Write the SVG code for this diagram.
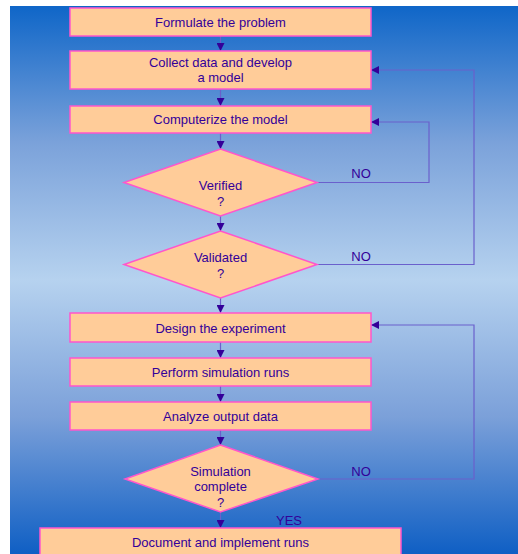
<svg xmlns="http://www.w3.org/2000/svg" width="518" height="554" viewBox="0 0 518 554">
<defs>
<linearGradient id="bg" x1="0" y1="6" x2="0" y2="554" gradientUnits="userSpaceOnUse">
<stop offset="0" stop-color="#0f66c8"/>
<stop offset="0.25" stop-color="#7ba2da"/>
<stop offset="0.5" stop-color="#b6d2ef"/>
<stop offset="0.75" stop-color="#7ba0d9"/>
<stop offset="1" stop-color="#0f5fc4"/>
</linearGradient>
<marker id="ah" viewBox="0 0 10 10" refX="10" refY="5" markerWidth="8" markerHeight="8" markerUnits="userSpaceOnUse" orient="auto">
<path d="M0,0 L10,5 L0,10 Z" fill="#330099"/>
</marker>
</defs>
<style>
.box{fill:#ffcc99;stroke:#ff55cc;stroke-width:1.5}
.t{font-family:"Liberation Sans",Arial,sans-serif;font-size:13px;fill:#330099;text-anchor:middle}
.c{fill:none;stroke:#6a60cc;stroke-width:1.2}
</style>
<rect x="0" y="0" width="518" height="554" fill="#ffffff"/>
<rect x="10" y="6" width="508" height="548" fill="url(#bg)"/>
<g id="connectors">
<line class="c" x1="220.5" y1="36" x2="220.5" y2="51" marker-end="url(#ah)"/>
<line class="c" x1="220.5" y1="89" x2="220.5" y2="106" marker-end="url(#ah)"/>
<line class="c" x1="220.5" y1="133" x2="220.5" y2="149" marker-end="url(#ah)"/>
<line class="c" x1="220.5" y1="216" x2="220.5" y2="231" marker-end="url(#ah)"/>
<line class="c" x1="220.5" y1="298" x2="220.5" y2="313" marker-end="url(#ah)"/>
<line class="c" x1="220.5" y1="342" x2="220.5" y2="358" marker-end="url(#ah)"/>
<line class="c" x1="220.5" y1="386" x2="220.5" y2="402" marker-end="url(#ah)"/>
<line class="c" x1="220.5" y1="430" x2="220.5" y2="445" marker-end="url(#ah)"/>
<line class="c" x1="220.5" y1="512" x2="220.5" y2="528" marker-end="url(#ah)"/>
<polyline class="c" points="317,182.5 429,182.5 429,122 371,122" marker-end="url(#ah)"/>
<polyline class="c" points="317,264.5 474,264.5 474,70 371,70" marker-end="url(#ah)"/>
<polyline class="c" points="318,479 474,479 474,325 371,325" marker-end="url(#ah)"/>
<text class="t" x="361" y="178">NO</text>
<text class="t" x="361" y="261">NO</text>
<text class="t" x="361" y="476">NO</text>
<text class="t" x="289" y="525">YES</text>
</g>
<g id="formulate">
<rect class="box" x="70" y="8" width="301" height="28"/>
<text class="t" x="220.5" y="27">Formulate the problem</text>
</g>
<g id="collect">
<rect class="box" x="70" y="51" width="301" height="38"/>
<text class="t" x="220.5" y="67">Collect data and develop</text>
<text class="t" x="220.5" y="82">a model</text>
</g>
<g id="computerize">
<rect class="box" x="70" y="106" width="301" height="27"/>
<text class="t" x="220.5" y="124">Computerize the model</text>
</g>
<g id="verified">
<polygon class="box" points="220.5,149 317,182.5 220.5,216 124,182.5"/>
<text class="t" x="220.5" y="190">Verified</text>
<text class="t" x="220.5" y="206">?</text>
</g>
<g id="validated">
<polygon class="box" points="220.5,231 317,264.5 220.5,298 124,264.5"/>
<text class="t" x="220.5" y="262">Validated</text>
<text class="t" x="220.5" y="278">?</text>
</g>
<g id="design">
<rect class="box" x="70" y="313" width="301" height="29"/>
<text class="t" x="220.5" y="333">Design the experiment</text>
</g>
<g id="perform">
<rect class="box" x="70" y="358" width="301" height="28"/>
<text class="t" x="220.5" y="377">Perform simulation runs</text>
</g>
<g id="analyze">
<rect class="box" x="70" y="402" width="301" height="28"/>
<text class="t" x="220.5" y="421">Analyze output data</text>
</g>
<g id="complete">
<polygon class="box" points="220.5,445 318,479 220.5,512 125,479"/>
<text class="t" x="220.5" y="476">Simulation</text>
<text class="t" x="220.5" y="491">complete</text>
<text class="t" x="220.5" y="507">?</text>
</g>
<g id="document">
<rect class="box" x="40" y="528" width="361" height="30"/>
<text class="t" x="220.5" y="547">Document and implement runs</text>
</g>
</svg>
